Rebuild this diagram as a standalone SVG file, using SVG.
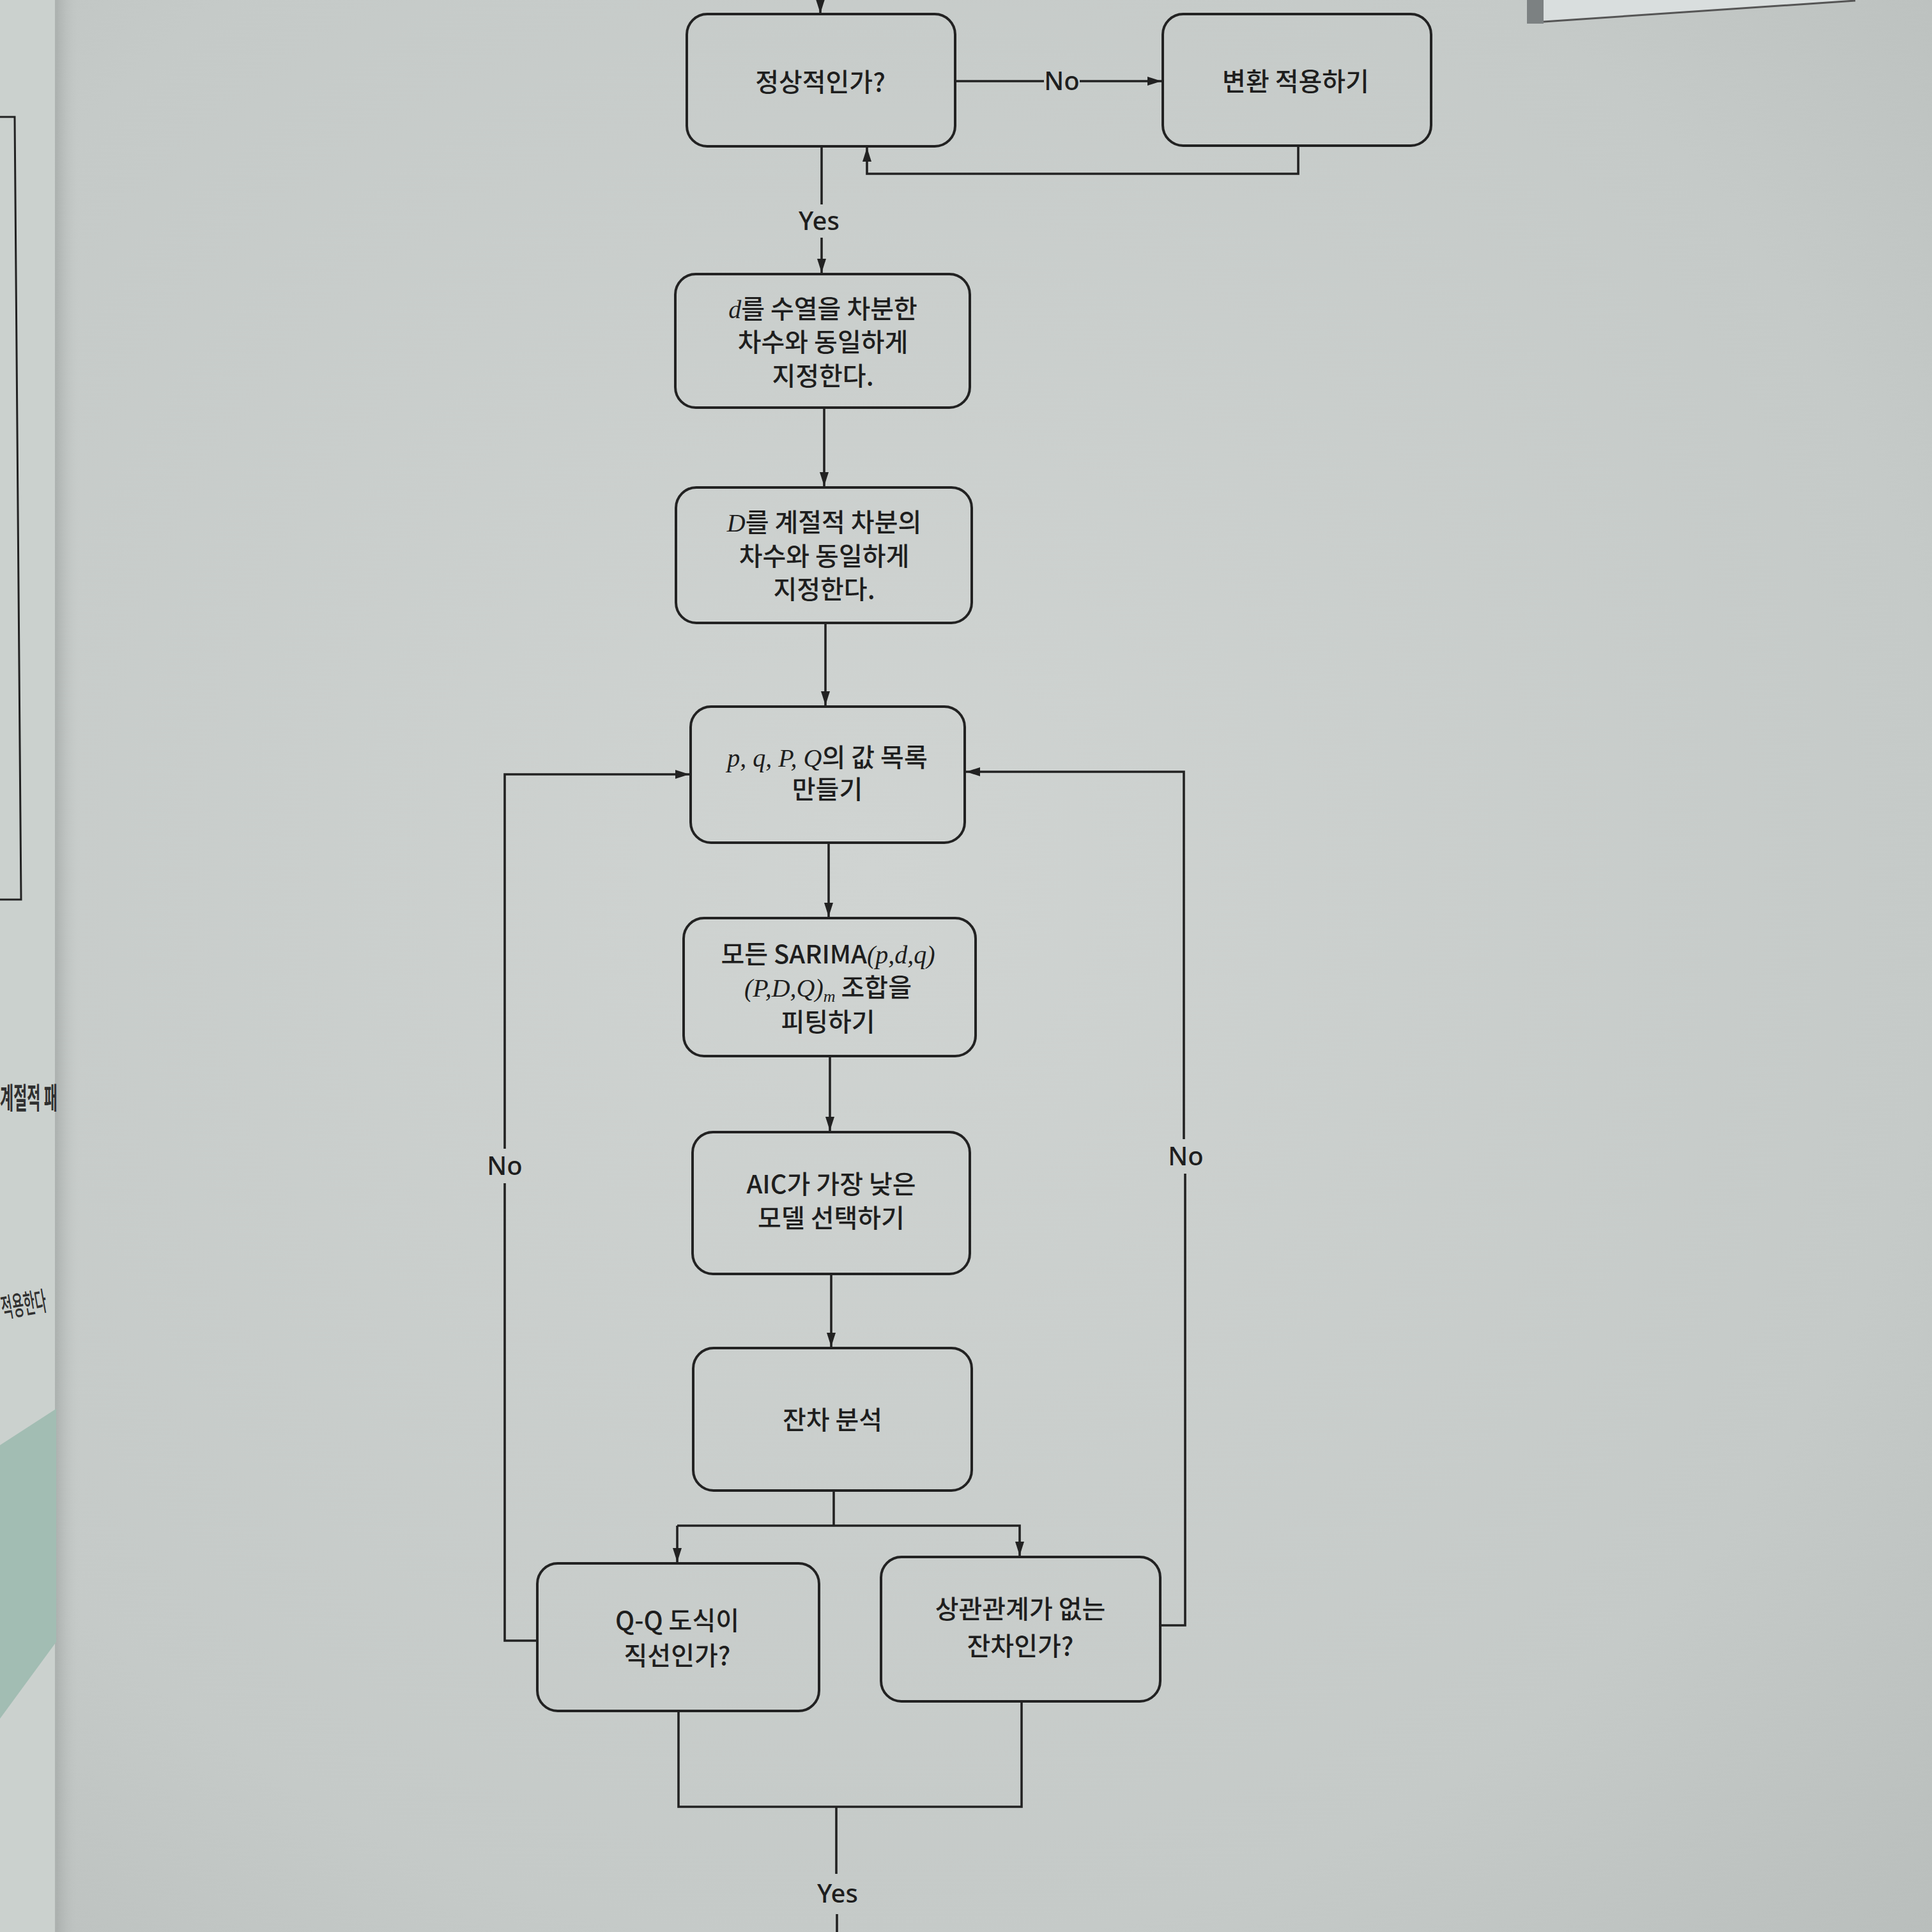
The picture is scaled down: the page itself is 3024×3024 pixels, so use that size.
<svg xmlns="http://www.w3.org/2000/svg" width="3024" height="3024" viewBox="0 0 3024 3024">
<defs>
<radialGradient id="page" cx="0.45" cy="0.45" r="0.8">
<stop offset="0" stop-color="#d0d4d2"/>
<stop offset="0.7" stop-color="#c5cac8"/>
<stop offset="1" stop-color="#b8bdbb"/>
</radialGradient>
<linearGradient id="fold" x1="0" y1="0" x2="1" y2="0">
<stop offset="0" stop-color="#9fa4a2" stop-opacity="0.7"/>
<stop offset="1" stop-color="#c4c9c7" stop-opacity="0"/>
</linearGradient>
<marker id="ah" markerUnits="userSpaceOnUse" markerWidth="24" markerHeight="16" refX="22" refY="7" orient="auto">
<path d="M0,0 L22,7 L0,14 z" fill="#222"/>
</marker>
<style>
.box{fill:none;stroke:#222;stroke-width:4}
.ln{fill:none;stroke:#222;stroke-width:3.6}
.t{font-family:"Noto Sans CJK KR","Noto Sans",sans-serif;font-size:40px;font-weight:500;fill:#1e1e1e;text-anchor:middle}
.m{font-family:"Liberation Serif",serif;font-style:italic;font-weight:400}
.lbl{font-family:"Noto Sans","Noto Sans CJK KR",sans-serif;font-size:40px;font-weight:500;fill:#1e1e1e;text-anchor:middle}
</style>
</defs>

<!-- page background -->
<rect x="0" y="0" width="3024" height="3024" fill="url(#page)"/>
<!-- left neighbouring page -->
<rect x="0" y="0" width="88" height="3024" fill="#cbd1ce"/>
<rect x="86" y="0" width="40" height="3024" fill="url(#fold)"/>
<path d="M0,183 L23,183 L33,1408 L0,1408" fill="none" stroke="#222" stroke-width="3"/>
<path d="M0,2262 L88,2205 L88,2570 L0,2690 z" fill="#a2bdb3"/>
<text x="0" y="1735" font-family="'Noto Sans CJK KR',sans-serif" font-size="46" font-weight="700" fill="#303030" transform="scale(0.5,1)">계절적 패</text>
<text x="10" y="2062" font-family="'Noto Sans CJK KR',sans-serif" font-size="42" font-weight="500" fill="#303030" transform="rotate(-10 10 2062) scale(0.46,1)">적용한다</text>
<!-- paper at top right -->
<polygon points="2416,0 2416,33 2904,0" fill="#d9dede"/>
<polygon points="2390,0 2390,37 2416,37 2416,0" fill="#7c8182"/>
<line x1="2416" y1="34" x2="2904" y2="1" stroke="#555" stroke-width="3"/>

<!-- connectors -->
<g id="connectors">
<line class="ln" x1="1284" y1="0" x2="1284" y2="21" marker-end="url(#ah)"/>
<line class="ln" x1="1495" y1="127" x2="1634" y2="127"/>
<line class="ln" x1="1690" y1="127" x2="1818" y2="127" marker-end="url(#ah)"/>
<polyline class="ln" points="2032,228 2032,272 1357,272 1357,231" marker-end="url(#ah)"/>
<line class="ln" x1="1286" y1="229" x2="1286" y2="320"/>
<line class="ln" x1="1286" y1="372" x2="1286" y2="427" marker-end="url(#ah)"/>
<line class="ln" x1="1290" y1="638" x2="1290" y2="761" marker-end="url(#ah)"/>
<line class="ln" x1="1292" y1="975" x2="1292" y2="1104" marker-end="url(#ah)"/>
<line class="ln" x1="1297" y1="1319" x2="1297" y2="1435" marker-end="url(#ah)"/>
<line class="ln" x1="1299" y1="1653" x2="1299" y2="1770" marker-end="url(#ah)"/>
<line class="ln" x1="1301" y1="1994" x2="1301" y2="2108" marker-end="url(#ah)"/>
<line class="ln" x1="1305" y1="2333" x2="1305" y2="2388"/>
<polyline class="ln" points="1060,2388 1596,2388 1596,2435" marker-end="url(#ah)"/>
<line class="ln" x1="1060" y1="2388" x2="1060" y2="2445" marker-end="url(#ah)"/>
<polyline class="ln" points="1062,2678 1062,2828 1599,2828 1599,2663"/>
<line class="ln" x1="1309" y1="2828" x2="1309" y2="2933"/>
<line class="ln" x1="1310" y1="2996" x2="1310" y2="3024"/>
<polyline class="ln" points="841,2568 790,2568 790,1852"/>
<polyline class="ln" points="790,1798 790,1212 1079,1212" marker-end="url(#ah)"/>
<polyline class="ln" points="1816,2544 1855,2544 1855,1837"/>
<polyline class="ln" points="1853,1783 1853,1208 1512,1208" marker-end="url(#ah)"/>
<text class="lbl" x="1662" y="141">No</text>
<text class="lbl" x="1282" y="360">Yes</text>
<text class="lbl" x="790" y="1839">No</text>
<text class="lbl" x="1856" y="1824">No</text>
<text class="lbl" x="1311" y="2978">Yes</text>
</g>

<g id="n1">
<rect class="box" x="1075" y="22" width="420" height="207" rx="32"/>
<text class="t" x="1284" y="143">정상적인가?</text>
</g>
<g id="n2">
<rect class="box" x="1820" y="22" width="420" height="206" rx="32"/>
<text class="t" x="2028" y="142">변환 적용하기</text>
</g>
<g id="n3">
<rect class="box" x="1057" y="429" width="461" height="209" rx="32"/>
<text class="t" x="1288" y="498"><tspan class="m">d</tspan>를 수열을 차분한</text>
<text class="t" x="1288" y="550">차수와 동일하게</text>
<text class="t" x="1288" y="603">지정한다.</text>
</g>
<g id="n4">
<rect class="box" x="1058" y="763" width="463" height="212" rx="32"/>
<text class="t" x="1290" y="832"><tspan class="m">D</tspan>를 계절적 차분의</text>
<text class="t" x="1290" y="885">차수와 동일하게</text>
<text class="t" x="1290" y="937">지정한다.</text>
</g>
<g id="n5">
<rect class="box" x="1081" y="1106" width="429" height="213" rx="32"/>
<text class="t" x="1295" y="1200"><tspan class="m">p, q, P, Q</tspan>의 값 목록</text>
<text class="t" x="1295" y="1250">만들기</text>
</g>
<g id="n6">
<rect class="box" x="1070" y="1437" width="457" height="216" rx="32"/>
<text class="t" x="1296" y="1508">모든 SARIMA<tspan class="m">(p,d,q)</tspan></text>
<text class="t" x="1296" y="1560"><tspan class="m">(P,D,Q)</tspan><tspan class="m" font-size="26" dy="8">m</tspan><tspan dy="-8"> 조합을</tspan></text>
<text class="t" x="1296" y="1614">피팅하기</text>
</g>
<g id="n7">
<rect class="box" x="1084" y="1772" width="434" height="222" rx="32"/>
<text class="t" x="1301" y="1868">AIC가 가장 낮은</text>
<text class="t" x="1301" y="1921">모델 선택하기</text>
</g>
<g id="n8">
<rect class="box" x="1085" y="2110" width="436" height="223" rx="32"/>
<text class="t" x="1303" y="2237">잔차 분석</text>
</g>
<g id="n9">
<rect class="box" x="841" y="2447" width="441" height="231" rx="32"/>
<text class="t" x="1060" y="2551">Q-Q 도식이</text>
<text class="t" x="1060" y="2606">직선인가?</text>
</g>
<g id="n10">
<rect class="box" x="1379" y="2437" width="437" height="226" rx="32"/>
<text class="t" x="1597" y="2533">상관관계가 없는</text>
<text class="t" x="1597" y="2591">잔차인가?</text>
</g>
</svg>
